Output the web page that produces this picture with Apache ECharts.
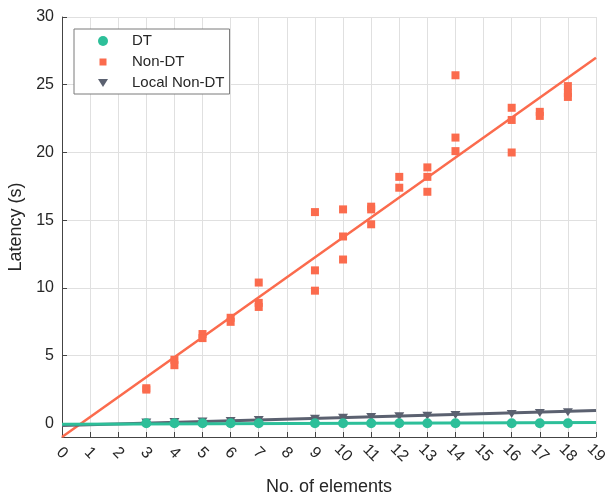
<!DOCTYPE html>
<html>
<head>
<meta charset="utf-8">
<script src="https://cdn.jsdelivr.net/npm/echarts@6/dist/echarts.min.js"></script>
<style>
html,body{margin:0;padding:0;background:#fff;}
#chart{width:605px;height:496px;}
</style>
</head>
<body>
<div id="chart"></div>
<script>
// ---- data ----
const yTickValues = [0, 5, 10, 15, 20, 25, 30];

const dtX = [3, 4, 5, 6, 7, 9, 10, 11, 12, 13, 14, 16, 17, 18];
const dtY = [0.01, 0.01, 0.01, 0.01, 0.01, 0.01, 0.01, 0.01, 0.01, 0.01, 0.01, 0.01, 0.01, 0.01];

const nonDtX = [3, 3, 4, 4, 5, 5, 6, 6, 7, 7, 7, 9, 9, 9, 10, 10, 10, 11, 11, 11, 12, 12, 13, 13, 13, 14, 14, 14, 16, 16, 16, 17, 17, 18, 18, 18];
const nonDtY = [2.5, 2.6, 4.7, 4.3, 6.6, 6.3, 7.8, 7.5, 10.4, 8.9, 8.6, 15.6, 11.3, 9.8, 15.8, 13.8, 12.1, 16.0, 15.8, 14.7, 18.2, 17.4, 18.9, 18.2, 17.1, 25.7, 21.1, 20.1, 23.3, 22.4, 20.0, 23.0, 22.7, 24.9, 24.4, 24.1];

const localX = [3, 4, 5, 6, 7, 9, 10, 11, 12, 13, 14, 16, 17, 18];
const localY = [0.07, 0.1, 0.15, 0.19, 0.25, 0.35, 0.42, 0.48, 0.53, 0.57, 0.62, 0.69, 0.78, 0.83];

const fitX = [0, 19];
const fitDT = [-0.05, 0.07];
const fitNonDT = [-1.0, 27.0];
const fitLocal = [-0.15, 0.95];

// ---- styling ----
const cGreen = '#2dbf99';
const cOrange = '#fb6b4d';
const cGray = '#5b6170';
const txt = '#262626';
const font = 'Liberation Sans, Arial, Helvetica, sans-serif';
const triPath = 'path://M0,0 L10,0 L5,8 Z';
const sqLegend = 'path://M0,0 M1.5,1.5 L8.5,1.5 L8.5,8.5 L1.5,8.5 Z M10,10';

const zip = (xs, ys) => xs.map((x, i) => [x, ys[i]]);

const chart = echarts.init(document.getElementById('chart'), null, {renderer: 'canvas'});
chart.setOption({
  animation: false,
  backgroundColor: '#fff',
  textStyle: {fontFamily: font},
  grid: {left: 62, right: 9, top: 17, bottom: 59, containLabel: false, outerBoundsMode: 'none'},
  legend: {
    orient: 'vertical',
    left: 74, top: 29,
    padding: [4, 5, 3, 24],
    itemWidth: 10, itemHeight: 10,
    itemGap: 5,
    backgroundColor: '#fff',
    borderColor: '#7a7a7a', borderWidth: 1,
    textStyle: {fontSize: 15, color: txt, fontFamily: font, lineHeight: 16, padding: [0, 0, 0, 19]},
    data: [
      {name: 'DT', icon: 'circle'},
      {name: 'Non-DT', icon: sqLegend},
      {name: 'Local Non-DT', icon: triPath}
    ]
  },
  xAxis: {
    type: 'value', min: 0, max: 19, interval: 1,
    name: 'No. of elements', nameLocation: 'middle', nameGap: 41,
    nameTextStyle: {fontSize: 18, color: txt, fontFamily: font},
    axisLine: {show: true, onZero: false, lineStyle: {color: '#444', width: 1}},
    axisTick: {show: true, inside: true, length: 5, lineStyle: {color: '#444'}},
    axisLabel: {fontSize: 16, color: txt, fontFamily: font, rotate: -45, margin: 16, align: 'center', verticalAlign: 'middle'},
    splitLine: {show: true, lineStyle: {color: '#e0e0e0', width: 1}}
  },
  yAxis: {
    type: 'value', min: -1, max: 30,
    name: 'Latency (s)', nameLocation: 'middle', nameGap: 28,
    nameTextStyle: {fontSize: 18, color: txt, fontFamily: font},
    axisLine: {show: true, onZero: false, lineStyle: {color: '#444', width: 1}},
    axisTick: {show: true, inside: true, length: 5, customValues: yTickValues, lineStyle: {color: '#444'}},
    axisLabel: {fontSize: 16, color: txt, fontFamily: font, margin: 8, customValues: yTickValues},
    splitLine: {show: true, lineStyle: {color: '#e0e0e0', width: 1}}
  },
  series: [
    {
      name: 'fitNonDT', type: 'line', data: zip(fitX, fitNonDT),
      showSymbol: false, silent: true, z: 2,
      lineStyle: {color: cOrange, width: 2.5}
    },
    {
      name: 'fitLocal', type: 'line', data: zip(fitX, fitLocal),
      showSymbol: false, silent: true, z: 3,
      lineStyle: {color: cGray, width: 3}
    },
    {
      name: 'Local Non-DT', type: 'scatter', data: zip(localX, localY),
      symbol: triPath, symbolSize: [10, 8], z: 4,
      itemStyle: {color: cGray, opacity: 1}
    },
    {
      name: 'fitDT', type: 'line', data: zip(fitX, fitDT),
      showSymbol: false, silent: true, z: 5,
      lineStyle: {color: cGreen, width: 3}
    },
    {
      name: 'DT', type: 'scatter', data: zip(dtX, dtY),
      symbol: 'circle', symbolSize: 10, z: 6,
      itemStyle: {color: cGreen, opacity: 1}
    },
    {
      name: 'Non-DT', type: 'scatter', data: zip(nonDtX, nonDtY),
      symbol: 'rect', symbolSize: 8, z: 7,
      itemStyle: {color: cOrange, opacity: 1}
    }
  ]
});
</script>
</body>
</html>
